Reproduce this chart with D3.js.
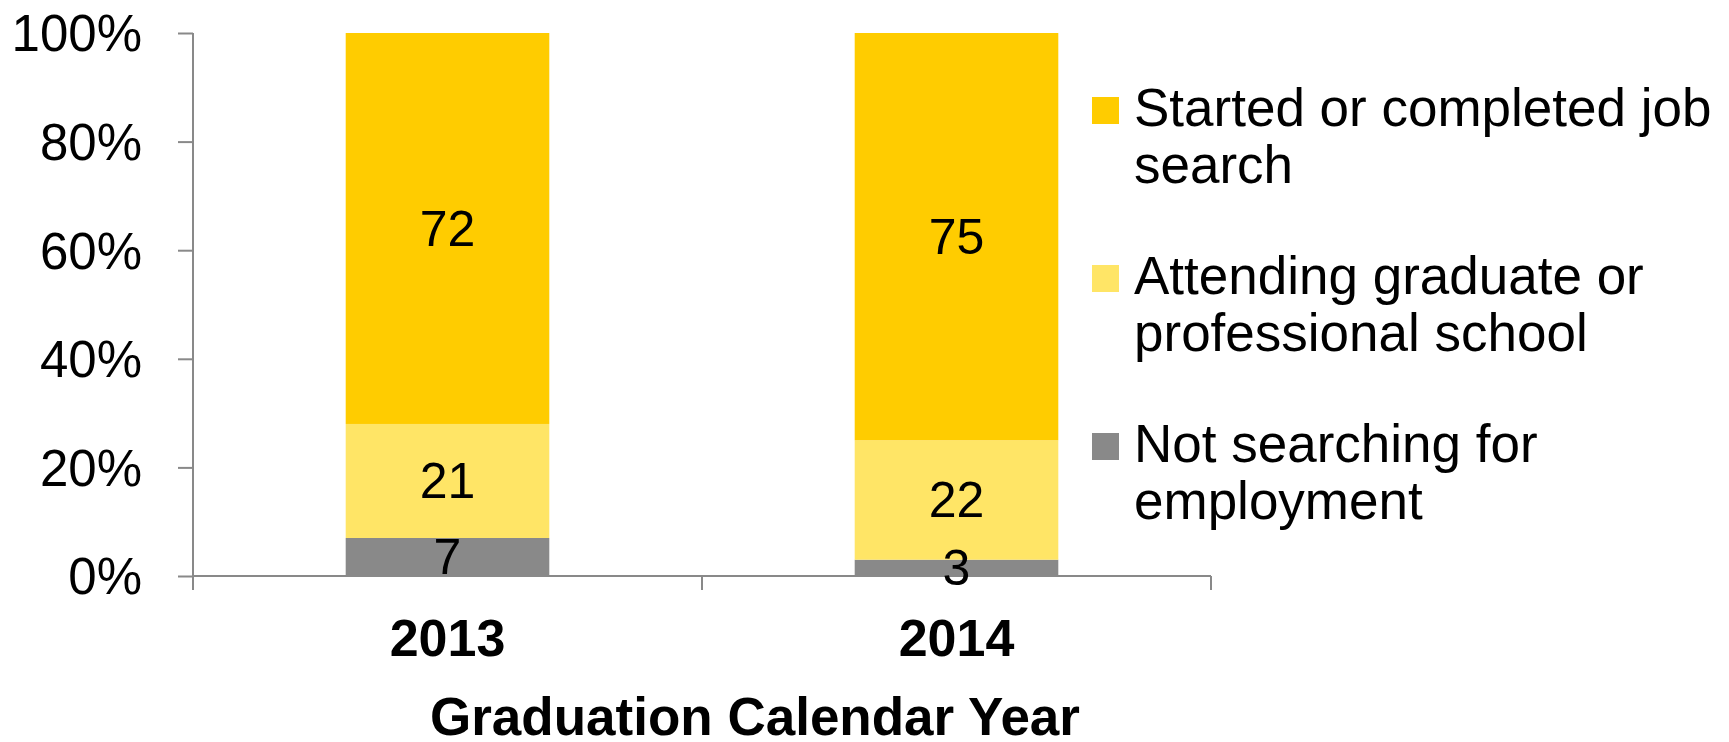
<!DOCTYPE html>
<html>
<head>
<meta charset="utf-8">
<script src="https://cdn.jsdelivr.net/npm/d3@7"></script>
<style>
  body { margin: 0; background: #fff; }
  svg text { font-family: "Liberation Sans", Arial, sans-serif; fill: #000; }
</style>
</head>
<body>
<svg id="chart" width="1729" height="742"></svg>
<script>
var years = ["2013", "2014"];
var seriesNames = ["Not searching for employment", "Attending graduate or professional school", "Started or completed job search"];
var notSearching = [7, 3];
var gradSchool = [21, 22];
var jobSearch = [72, 75];
var yTicks = [0, 20, 40, 60, 80, 100];

var colors = ["#898989", "#FFE566", "#FFCC00"];
// legend goes top to bottom: job search, grad school, not searching
var legendLines = [
    ["Started or completed job", "search"],
    ["Attending graduate or", "professional school"],
    ["Not searching for", "employment"]
];

var rows = years.map(function(y, i) {
    return { year: y, s0: notSearching[i], s1: gradSchool[i], s2: jobSearch[i] };
});
var stack = d3.stack().keys(["s0", "s1", "s2"]);
var series = stack(rows);

var svg = d3.select("#chart");
var plotLeft = 193, plotRight = 1211, plotTop = 33, plotBottom = 576;

var x = d3.scaleBand().domain(years).range([plotLeft, plotRight]).paddingInner(0.6).paddingOuter(0.3);
var y = d3.scaleLinear().domain([0, 100]).range([plotBottom, plotTop]);

var axisColor = "#898989";

// bars
var layers = svg.append("g").selectAll("g")
    .data(series)
    .enter().append("g")
    .attr("fill", function(d, i) { return colors[i]; });

layers.selectAll("rect")
    .data(function(d) { return d; })
    .enter().append("rect")
    .attr("x", function(d) { return x(d.data.year); })
    .attr("width", x.bandwidth())
    .attr("y", function(d) { return y(d[1]); })
    .attr("height", function(d) { return y(d[0]) - y(d[1]); });

// y axis
var yAxis = svg.append("g")
    .attr("transform", "translate(" + plotLeft + ",0)")
    .call(d3.axisLeft(y).tickValues(yTicks).tickSize(15).tickPadding(36).tickFormat(function(d) { return d + "%"; }));
yAxis.select(".domain").attr("stroke", axisColor).attr("stroke-width", 2).attr("d", "M0," + plotTop + "V" + (plotBottom + 14));
yAxis.selectAll(".tick line").attr("stroke", axisColor).attr("stroke-width", 2);
yAxis.selectAll(".tick text").style("font-size", "51px").attr("dy", "0.35em");

// x axis line + boundary ticks
var xg = svg.append("g");
xg.append("line")
    .attr("x1", plotLeft).attr("x2", plotRight)
    .attr("y1", plotBottom).attr("y2", plotBottom)
    .attr("stroke", axisColor).attr("stroke-width", 2);
var bounds = [plotLeft].concat(years.map(function(d) { return x(d) + x.bandwidth() + x.step() * x.paddingInner() / 2; }));
xg.selectAll(".btick")
    .data(bounds)
    .enter().append("line")
    .attr("x1", function(d) { return d; }).attr("x2", function(d) { return d; })
    .attr("y1", plotBottom).attr("y2", plotBottom + 14)
    .attr("stroke", axisColor).attr("stroke-width", 2);

xg.selectAll(".xlab")
    .data(years)
    .enter().append("text")
    .attr("x", function(d) { return x(d) + x.bandwidth() / 2; })
    .attr("y", 656)
    .attr("text-anchor", "middle")
    .style("font-size", "52px")
    .style("font-weight", "bold")
    .text(function(d) { return d; });

svg.append("text")
    .attr("x", 755)
    .attr("y", 735)
    .attr("text-anchor", "middle")
    .style("font-size", "53px")
    .style("font-weight", "bold")
    .text("Graduation Calendar Year");

// data labels, drawn over the axis line
svg.append("g").selectAll("g")
    .data(series)
    .enter().append("g")
    .selectAll("text")
    .data(function(d) { return d; })
    .enter().append("text")
    .attr("x", function(d) { return x(d.data.year) + x.bandwidth() / 2; })
    .attr("y", function(d) { return (y(d[0]) + y(d[1])) / 2; })
    .attr("dy", "0.35em")
    .attr("text-anchor", "middle")
    .style("font-size", "50px")
    .text(function(d) { return d[1] - d[0]; });

// legend
var legendColors = [colors[2], colors[1], colors[0]];
var legendTop = [97, 265, 433];
var legend = svg.append("g").selectAll("g")
    .data(legendLines)
    .enter().append("g")
    .attr("transform", function(d, i) { return "translate(1092," + legendTop[i] + ")"; });
legend.append("rect")
    .attr("width", 27).attr("height", 27)
    .attr("fill", function(d, i) { return legendColors[i]; });
legend.append("text")
    .attr("x", 42)
    .attr("y", 29)
    .style("font-size", "53px")
    .selectAll("tspan")
    .data(function(d) { return d; })
    .enter().append("tspan")
    .attr("x", 42)
    .attr("dy", function(d, i) { return i === 0 ? 0 : 57; })
    .text(function(d) { return d; });
</script>
</body>
</html>
